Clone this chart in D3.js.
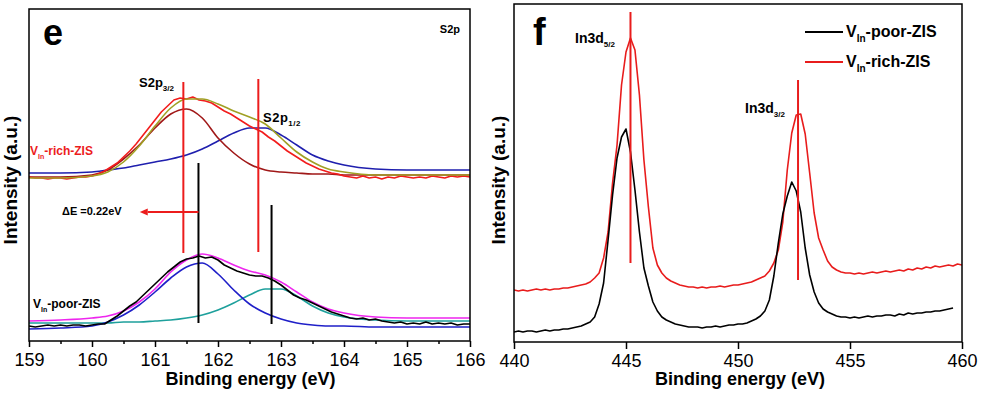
<!DOCTYPE html>
<html>
<head>
<meta charset="utf-8">
<script src="https://cdn.jsdelivr.net/npm/d3@7"></script>
<style>
body { margin: 0; background: #fff; }
svg { font-family: "Liberation Sans", Arial, sans-serif; }
</style>
</head>
<body>
<svg id="chart" width="983" height="396"></svg>
<script>
// ---- panel e : S2p ----
var eExpEnergy = [159.0,159.1,159.2,159.3,159.4,159.5,159.6,159.7,159.8,159.9,
    160.0,160.1,160.2,160.3,160.4,160.5,160.6,160.7,160.8,160.9,
    161.0,161.1,161.2,161.3,161.4,161.5,161.6,161.7,161.8,161.9,
    162.0,162.1,162.2,162.3,162.4,162.5,162.6,162.7,162.8,162.9,
    163.0,163.1,163.2,163.3,163.4,163.5,163.6,163.7,163.8,163.9,
    164.0,164.1,164.2,164.3,164.4,164.5,164.6,164.7,164.8,164.9,
    165.0,165.1,165.2,165.3,165.4,165.5,165.6,165.7,165.8,165.9,
    166.0]
var richData = [164,163,163,162,163,163,162,163,164,164,
    165,167,170,174,178,184,190,197,205,213,
    221,229,235,241,243,242,244,241,240,238,
    234,230,227,223,219,215,212,209,204,200,
    195,190,186,182,178,175,172,170,168,167,
    165,164,163,165,163,164,162,164,163,165,
    164,163,164,163,165,164,163,165,164,165,
    164]
var poorData = [15,14,15,16,15,16,15,16,16,15,
    16,17,17,21,25,30,35,39,45,51,
    57,63,69,74,79,82,83,85,83,84,
    81,76,73,70,68,66,65,65,63,60,
    56,51,46,43,41,38,35,32,29,27,
    25,23,22,23,21,22,20,19,18,19,
    17,18,17,19,17,18,17,18,16,17,
    17]

var eFitEnergy = [159,159.5,160,160.25,160.5,160.75,161,161.25,161.5,161.75,162,162.25,
    162.5,162.75,163,163.25,163.5,163.75,164,164.5,165,165.5,166]
var richEnvelope = [163,163,165,169,179,195,215,233,242,242,237,230,224,217,203,189,179,172,169,166,166,166,166]
var rich32 = [164,164,166,171,182,196,213,227,232,223,203,188,177,171,169,168,167,167,166,166,166,166,166]
var rich12 = [168,168,169,171,173,176,179,182,186,192,200,208,213,213,206,196,186,180,176,172,171,171,171]
var poorEnvelope = [20,21,23,25,30,39,52,69,81,87,83,76,70,66,59,49,39,32,28,24,23,23,23]
var poor32 = [12,13,15,19,26,36,49,63,74,78,67,51,37,28,22,18,16,15,15,14,14,14,14]
var poor12 = [18,18,18,18,19,19,20,21,23,26,31,38,46,52,52,45,35,28,24,21,20,20,20]

var richPeaks = [161.45, 162.64], richPeakTop = [259, 262], richPeakBottom = [88, 89]
var poorPeaks = [161.69, 162.85], poorPeakTop = [178, 136], poorPeakBottom = [18, 17]
var shift = {from: 161.69, to: 160.79, level: 129}

// ---- panel f : In3d ----
var fEnergy = [440,440.2,440.4,440.6,440.8,441,441.2,441.4,441.6,441.8,
    442,442.2,442.4,442.6,442.8,443,443.2,443.4,443.6,443.8,
    444,444.2,444.4,444.6,444.8,445,445.2,445.4,445.6,445.8,
    446,446.2,446.4,446.6,446.8,447,447.2,447.4,447.6,447.8,
    448,448.2,448.4,448.6,448.8,449,449.2,449.4,449.6,449.8,
    450,450.2,450.4,450.6,450.8,451,451.2,451.4,451.6,451.8,
    452,452.2,452.4,452.6,452.8,453,453.2,453.4,453.6,453.8,
    454,454.2,454.4,454.6,454.8,455,455.2,455.4,455.6,455.8,
    456,456.2,456.4,456.6,456.8,457,457.2,457.4,457.6,457.8,
    458,458.2,458.4,458.6,458.8,459,459.2,459.4,459.6,459.8,
    460]
var fRich = [52,51,52,51,52,53,52,53,52,53,
    53,54,54,55,56,57,58,60,64,69,
    84,110,159,197,257,290,304,292,247,182,
    135,94,77,69,64,61,59,57,56,55,
    55,54,55,54,55,55,56,55,56,57,
    57,58,59,60,62,64,66,71,79,92,
    120,172,209,227,228,208,169,129,104,92,
    81,75,72,70,69,69,68,69,68,69,
    70,69,70,71,70,71,72,71,73,72,
    74,73,75,74,76,75,76,77,76,78,
    77]
var fPoor = [10,11,10,11,11,10,11,12,11,12,
    12,13,13,14,15,16,18,20,25,38,
    59,102,147,184,205,213,190,152,110,74,
    56,40,31,25,22,20,18,17,16,15,
    15,15,14,15,15,16,15,16,17,17,
    18,18,19,21,23,26,31,42,66,99,
    128,146,160,151,130,94,67,50,39,33,
    30,28,26,25,25,24,25,24,25,26,
    25,26,26,27,27,26,28,27,29,28,
    29,29,30,30,31,31,32,33,34]
var inPeaks = [445.2, 452.68], inPeakTop = [330, 262], inPeakBottom = [79, 62]

var eTicks = [159,160,161,162,163,164,165,166]
var eMinor = [159.5,160.5,161.5,162.5,163.5,164.5,165.5]
var fTicks = [440,445,450,455,460]

var svg = d3.select("#chart")

var pe = {left: 29, right: 470, top: 9, bottom: 341}
var pf = {left: 514, right: 962, top: 4, bottom: 342}

var xE = d3.scaleLinear().domain([159, 166]).range([pe.left, pe.right])
var yE = d3.scaleLinear().domain([0, 332]).range([pe.bottom, pe.top])
var xF = d3.scaleLinear().domain([440, 460]).range([pf.left, pf.right])
var yF = d3.scaleLinear().domain([0, 338]).range([pf.bottom, pf.top])

var defs = svg.append("defs")
defs.append("clipPath").attr("id", "clipE").append("rect")
    .attr("x", pe.left).attr("y", pe.top).attr("width", pe.right - pe.left).attr("height", pe.bottom - pe.top)
defs.append("clipPath").attr("id", "clipF").append("rect")
    .attr("x", pf.left).attr("y", pf.top).attr("width", pf.right - pf.left).attr("height", pf.bottom - pf.top)

function drawLine(g, xs, ys, energy, values, color, curve) {
    g.append("path")
        .datum(values)
        .attr("fill", "none")
        .attr("stroke", color)
        .attr("stroke-width", 1.6)
        .attr("stroke-linejoin", "round")
        .attr("d", d3.line().x((d, i) => xs(energy[i])).y(d => ys(d)).curve(curve))
}

function drawMarkers(g, xs, ys, pos, top, bottom, color) {
    g.selectAll(null)
        .data(pos)
        .enter()
        .append("line")
        .attr("x1", d => xs(d)).attr("x2", d => xs(d))
        .attr("y1", (d, i) => ys(top[i])).attr("y2", (d, i) => ys(bottom[i]))
        .attr("stroke", color)
        .attr("stroke-width", 2)
}

function label(g, x, y, main, sub, rest, size, color) {
    var t = g.append("text").attr("x", x).attr("y", y)
        .attr("font-size", size + "px").attr("font-weight", "bold").attr("fill", color || "#000")
    t.append("tspan").text(main)
    t.append("tspan").text(sub).attr("font-size", Math.round(size * 0.6) + "px").attr("dy", size * 0.3)
    if (rest) t.append("tspan").text(rest).attr("dy", -size * 0.3)
    return t
}

function styleAxis(ax) {
    ax.select(".domain").remove()
    ax.selectAll(".tick line").attr("stroke", "#000").attr("stroke-width", 1.5)
    ax.selectAll(".tick text").attr("font-size", "18px").attr("fill", "#000")
        .attr("font-family", "'Liberation Sans', Arial, sans-serif")
}

// ===== panel e =====
var ge = svg.append("g")
var ceurves = ge.append("g").attr("clip-path", "url(#clipE)")

drawLine(ceurves, xE, yE, eFitEnergy, rich12, "#1f1fae", d3.curveMonotoneX)
drawLine(ceurves, xE, yE, eFitEnergy, rich32, "#a01818", d3.curveMonotoneX)
drawLine(ceurves, xE, yE, eExpEnergy, richData, "#f21c1c", d3.curveLinear)
drawLine(ceurves, xE, yE, eFitEnergy, richEnvelope, "#a0a024", d3.curveMonotoneX)

drawLine(ceurves, xE, yE, eFitEnergy, poor12, "#1ea09c", d3.curveMonotoneX)
drawLine(ceurves, xE, yE, eFitEnergy, poor32, "#1f1fc8", d3.curveMonotoneX)
drawLine(ceurves, xE, yE, eFitEnergy, poorEnvelope, "#ee26ee", d3.curveMonotoneX)
drawLine(ceurves, xE, yE, eExpEnergy, poorData, "#000", d3.curveLinear)

drawMarkers(ge, xE, yE, richPeaks, richPeakTop, richPeakBottom, "#ec1c1c")
drawMarkers(ge, xE, yE, poorPeaks, poorPeakTop, poorPeakBottom, "#000")

// shift arrow
ge.append("line")
    .attr("x1", xE(shift.from)).attr("x2", xE(shift.to) + 6)
    .attr("y1", yE(shift.level)).attr("y2", yE(shift.level))
    .attr("stroke", "#ec1c1c").attr("stroke-width", 2)
ge.append("path")
    .attr("d", "M" + (xE(shift.to) - 2) + "," + yE(shift.level) +
        " l8,-3.5 l0,7 z")
    .attr("fill", "#ec1c1c")

ge.append("rect")
    .attr("x", pe.left).attr("y", pe.top)
    .attr("width", pe.right - pe.left).attr("height", pe.bottom - pe.top)
    .attr("fill", "none").attr("stroke", "#000").attr("stroke-width", 1.5)

var axE = ge.append("g")
    .attr("transform", "translate(0," + pe.bottom + ")")
    .call(d3.axisBottom(xE).tickValues(eTicks).tickSize(6).tickPadding(6).tickFormat(d3.format("d")))
styleAxis(axE)
var axEm = ge.append("g")
    .attr("transform", "translate(0," + pe.bottom + ")")
    .call(d3.axisBottom(xE).tickValues(eMinor).tickSize(3).tickFormat(""))
styleAxis(axEm)

ge.append("text").attr("x", 43).attr("y", 45).attr("font-size", "36px").attr("font-weight", "bold").text("e")
ge.append("text").attr("x", 460).attr("y", 33).attr("text-anchor", "end")
    .attr("font-size", "11px").attr("font-weight", "bold").text("S2p")
label(ge, 139, 87, "S2p", "3/2", null, 13)
label(ge, 263, 122, "S2p", "1/2", null, 13).attr("letter-spacing", "0.5px")
label(ge, 30, 155, "V", "In", "-rich-ZIS", 12, "#ec1c1c")
label(ge, 33, 308, "V", "In", "-poor-ZIS", 12, "#000")
ge.append("text").attr("x", 62).attr("y", 215)
    .attr("font-size", "11px").attr("font-weight", "bold").text("\u0394E =0.22eV")

ge.append("text")
    .attr("text-anchor", "middle")
    .attr("transform", "translate(17,180) rotate(-90)")
    .attr("font-size", "19px").attr("font-weight", "bold")
    .text("Intensity (a.u.)")
ge.append("text")
    .attr("text-anchor", "middle")
    .attr("x", (pe.left + pe.right) / 2 + 1).attr("y", 385)
    .attr("font-size", "18px").attr("font-weight", "bold")
    .text("Binding energy (eV)")

// ===== panel f =====
var gf = svg.append("g")
var cf = gf.append("g").attr("clip-path", "url(#clipF)")

drawLine(cf, xF, yF, fEnergy, fRich, "#e81c1c", d3.curveLinear)
drawLine(cf, xF, yF, fEnergy, fPoor, "#000", d3.curveLinear)
drawMarkers(gf, xF, yF, inPeaks, inPeakTop, inPeakBottom, "#e81c1c")

gf.append("rect")
    .attr("x", pf.left).attr("y", pf.top)
    .attr("width", pf.right - pf.left).attr("height", pf.bottom - pf.top)
    .attr("fill", "none").attr("stroke", "#000").attr("stroke-width", 1.5)

var axF = gf.append("g")
    .attr("transform", "translate(0," + pf.bottom + ")")
    .call(d3.axisBottom(xF).tickValues(fTicks).tickSize(7).tickPadding(5).tickFormat(d3.format("d")))
styleAxis(axF)

gf.append("text").attr("x", 533).attr("y", 45).attr("font-size", "38px").attr("font-weight", "bold").text("f")
label(gf, 575, 43, "In3d", "5/2", null, 14)
label(gf, 745, 113, "In3d", "3/2", null, 14)

// legend
var legendNames = ["-poor-ZIS", "-rich-ZIS"]
var legendColors = ["#000", "#e81c1c"]
legendNames.forEach(function (n, i) {
    var y = 32 + i * 30
    gf.append("line").attr("x1", 805).attr("x2", 843).attr("y1", y).attr("y2", y)
        .attr("stroke", legendColors[i]).attr("stroke-width", 1.8)
    label(gf, 846, y + 5, "V", "In", n, 16, "#000")
})

gf.append("text")
    .attr("text-anchor", "middle")
    .attr("transform", "translate(505,180) rotate(-90)")
    .attr("font-size", "19px").attr("font-weight", "bold")
    .text("Intensity (a.u.)")
gf.append("text")
    .attr("text-anchor", "middle")
    .attr("x", 740).attr("y", 385)
    .attr("font-size", "18px").attr("font-weight", "bold")
    .text("Binding energy (eV)")
</script>
</body>
</html>
